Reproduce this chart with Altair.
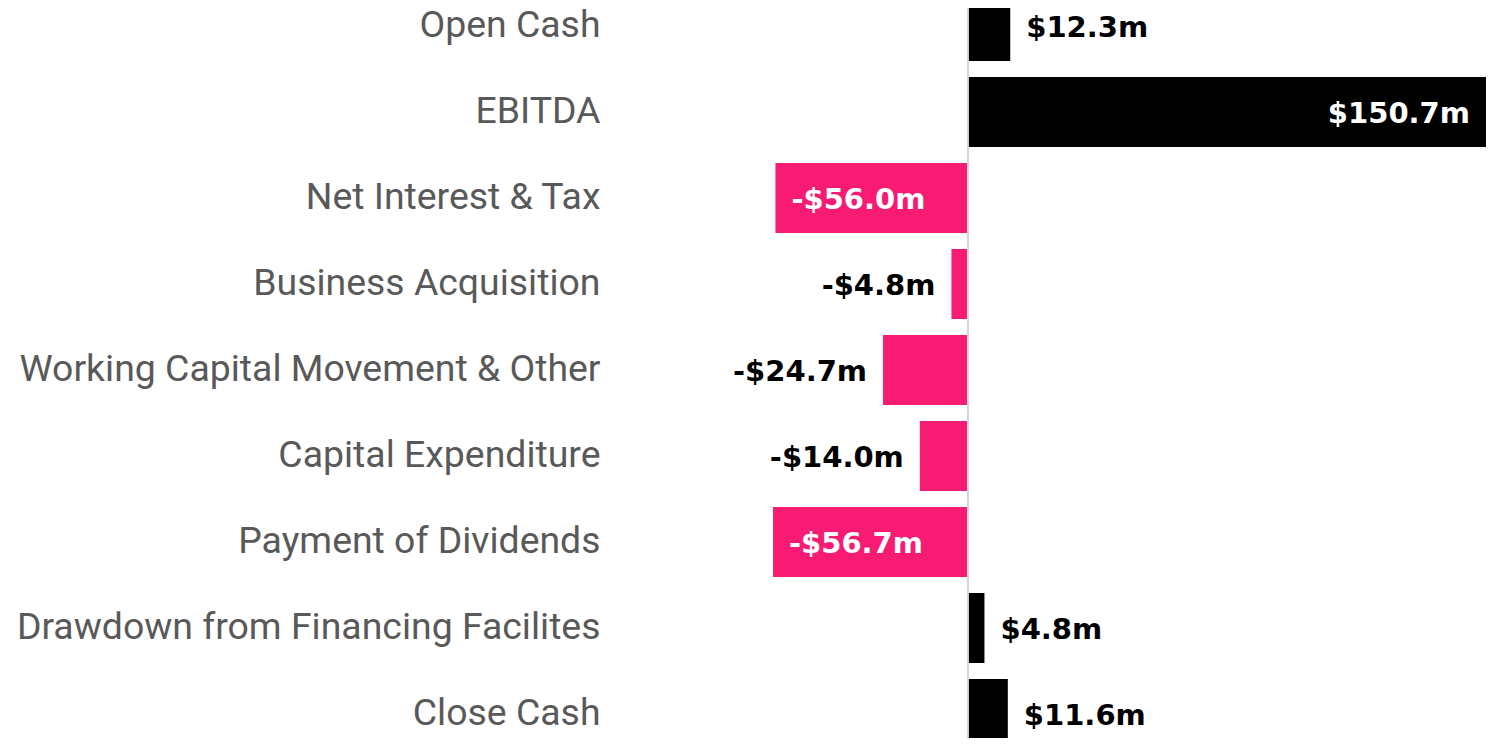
import altair as alt
import pandas as pd

categories = [
    "Open Cash",
    "EBITDA",
    "Net Interest & Tax",
    "Business Acquisition",
    "Working Capital Movement & Other",
    "Capital Expenditure",
    "Payment of Dividends",
    "Drawdown from Financing Facilites",
    "Close Cash",
]
values = [12.3, 150.7, -56.0, -4.8, -24.7, -14.0, -56.7, 4.8, 11.6]
value_labels = ["$12.3m", "$150.7m", "-$56.0m", "-$4.8m", "-$24.7m",
                "-$14.0m", "-$56.7m", "$4.8m", "$11.6m"]

df = pd.DataFrame({"cat": categories, "value": values, "label": value_labels})
df["neg"] = df["value"] < 0
df["inside"] = df["value"].abs() > 50
# left-aligned labels: positive outside, negative inside
df["leftalign"] = (~df["neg"] & ~df["inside"]) | (df["neg"] & df["inside"])

PINK = "#F71B74"

x_scale = alt.Scale(domain=[-101.8, 150.7], nice=False, zero=False)
y_scale = alt.Scale(domain=categories, range=[-25, 749],
                    paddingInner=0.186, paddingOuter=0.093)

y_axis = alt.Axis(domain=False, ticks=False, grid=False, labelPadding=18,
                  labelFont="Roboto", labelFontSize=37.4,
                  labelColor="#595959", labelLimit=700, labelAlign="right")

base = alt.Chart(df)

bars = base.mark_bar().encode(
    x=alt.X("value:Q", scale=x_scale, axis=None),
    x2=alt.datum(0),
    y=alt.Y("cat:N", scale=y_scale, sort=categories, title=None, axis=y_axis),
    color=alt.condition("datum.value < 0", alt.value(PINK), alt.value("#000000")),
)

rule = alt.Chart(pd.DataFrame({"z": [0]})).mark_rule(
    color="#d4d4d4", strokeWidth=2
).encode(x=alt.X("z:Q", scale=x_scale, axis=None))

text_common = dict(font="DejaVu Sans", fontWeight="bold", fontSize=29,
                   baseline="middle", dy=2)

txt_left = base.transform_filter("datum.leftalign").mark_text(
    align="left", dx=16, **text_common
).encode(
    x=alt.X("value:Q", scale=x_scale, axis=None),
    y=alt.Y("cat:N", scale=y_scale, sort=categories, title=None, axis=y_axis),
    text="label:N",
    color=alt.condition("datum.inside", alt.value("#ffffff"), alt.value("#000000")),
)

txt_right = base.transform_filter("!datum.leftalign").mark_text(
    align="right", dx=-16, **text_common
).encode(
    x=alt.X("value:Q", scale=x_scale, axis=None),
    y=alt.Y("cat:N", scale=y_scale, sort=categories, title=None, axis=y_axis),
    text="label:N",
    color=alt.condition("datum.inside", alt.value("#ffffff"), alt.value("#000000")),
)

chart = alt.layer(bars, rule, txt_left, txt_right).properties(
    width=868,
    height=730,
    background="white",
    autosize=alt.AutoSizeParams(type="none"),
    padding={"left": 610, "top": 0, "right": 0, "bottom": 0},
).configure_view(strokeWidth=0, stroke="transparent").configure_axis(
    grid=False, domain=False
)

chart.save("out.html", embed_options={"renderer": "svg", "actions": False})
